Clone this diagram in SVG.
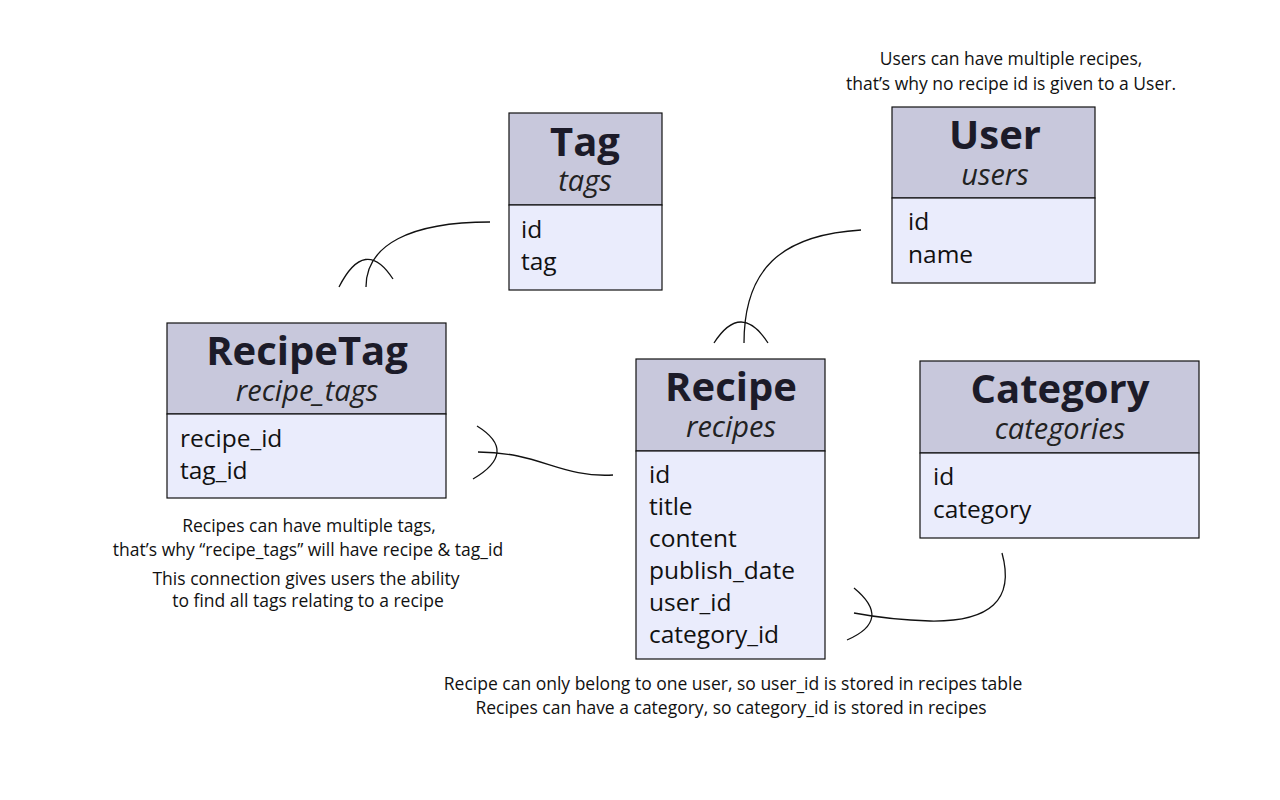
<svg xmlns="http://www.w3.org/2000/svg" width="1280" height="800" viewBox="0 0 1280 800">
<style>
.hd{fill:#c8c8dc;stroke:#111;stroke-width:1.2}
.bd{fill:#eaecfc;stroke:#111;stroke-width:1.2}
.tt{font-family:"Open Sans","Liberation Sans",sans-serif;font-weight:bold;font-size:40px;fill:#1c1b29;text-anchor:middle}
.st{font-family:"Open Sans","Liberation Sans",sans-serif;font-style:italic;font-size:29px;fill:#222;text-anchor:middle}
.fd{font-family:"Open Sans","Liberation Sans",sans-serif;font-size:24.5px;fill:#111}
.nt{font-family:"Open Sans","Liberation Sans",sans-serif;font-size:17.5px;fill:#111;text-anchor:middle}
.cn{fill:none;stroke:#111;stroke-width:1.3}
</style>
<rect width="1280" height="800" fill="#fff"/>
<g id="connectors">
<path class="cn" d="M366,287 C366,245 410,222 490,222"/>
<path class="cn" d="M339,287 Q365,236 393,279"/>
<path class="cn" d="M744,343 C744,270 780,235 861,230"/>
<path class="cn" d="M714,343 Q741,301 768,343"/>
<path class="cn" d="M478,452 C540,452 560,478 613,475"/>
<path class="cn" d="M477,426 Q519,452 473,479"/>
<path class="cn" d="M1002,553 C1015,600 990,622 930,621 C895,620 870,616 854,613"/>
<path class="cn" d="M854,588 Q893,620 847,640"/>
</g>
<g id="tag">
<rect class="hd" x="509" y="113" width="153" height="92"/>
<rect class="bd" x="509" y="205" width="153" height="85"/>
<text class="tt" x="585" y="156">Tag</text>
<text class="st" x="585" y="191">tags</text>
<text class="fd" x="521" y="238">id</text>
<text class="fd" x="521" y="270">tag</text>
</g>
<g id="user">
<rect class="hd" x="892" y="107" width="203" height="91"/>
<rect class="bd" x="892" y="198" width="203" height="85"/>
<text class="tt" x="995" y="149">User</text>
<text class="st" x="995" y="185">users</text>
<text class="fd" x="908" y="230">id</text>
<text class="fd" x="908" y="263">name</text>
</g>
<g id="recipetag">
<rect class="hd" x="167" y="323" width="279" height="91"/>
<rect class="bd" x="167" y="414" width="279" height="84"/>
<text class="tt" x="307" y="365">RecipeTag</text>
<text class="st" x="307" y="401">recipe_tags</text>
<text class="fd" x="180" y="447">recipe_id</text>
<text class="fd" x="180" y="479">tag_id</text>
</g>
<g id="recipe">
<rect class="hd" x="636" y="359" width="189" height="92"/>
<rect class="bd" x="636" y="451" width="189" height="208"/>
<text class="tt" x="731" y="401">Recipe</text>
<text class="st" x="731" y="437">recipes</text>
<text class="fd" x="649" y="483">id</text>
<text class="fd" x="649" y="515">title</text>
<text class="fd" x="649" y="547">content</text>
<text class="fd" x="649" y="579">publish_date</text>
<text class="fd" x="649" y="611">user_id</text>
<text class="fd" x="649" y="643">category_id</text>
</g>
<g id="category">
<rect class="hd" x="920" y="361" width="279" height="92"/>
<rect class="bd" x="920" y="453" width="279" height="85"/>
<text class="tt" x="1060" y="403">Category</text>
<text class="st" x="1060" y="439">categories</text>
<text class="fd" x="933" y="485">id</text>
<text class="fd" x="933" y="518">category</text>
</g>
<g id="notes">
<text class="nt" x="1011" y="65">Users can have multiple recipes,</text>
<text class="nt" x="1011" y="90">that’s why no recipe id is given to a User.</text>
<text class="nt" x="309" y="532">Recipes can have multiple tags,</text>
<text class="nt" x="308" y="556">that’s why “recipe_tags” will have recipe &amp; tag_id</text>
<text class="nt" x="306" y="585">This connection gives users the ability</text>
<text class="nt" x="308" y="607">to find all tags relating to a recipe</text>
<text class="nt" x="733" y="690">Recipe can only belong to one user, so user_id is stored in recipes table</text>
<text class="nt" x="731" y="714">Recipes can have a category, so category_id is stored in recipes</text>
</g>
</svg>
